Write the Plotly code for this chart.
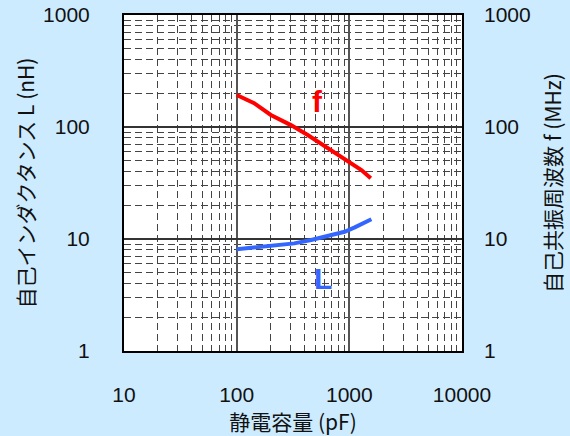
import math
import plotly.graph_objects as go

# Data
cap_f = [100, 143, 201, 303, 427, 646, 908, 1117, 1280, 1550]      # pF
freq_f = [193, 163, 128, 104, 84.9, 64.6, 52.5, 45.8, 41.3, 34.8]  # MHz

cap_L = [100, 143, 215, 325, 458, 646, 908, 1117, 1325, 1570]      # pF
ind_L = [8.09, 8.36, 8.66, 9.14, 9.8, 10.6, 11.6, 12.7, 13.8, 15.0]  # nH

x_ticks = [10, 100, 1000, 10000]
x_ticktext = ["10", "100", "1000", "10000"]
y_ticks = [1, 10, 100, 1000]
y_ticktext = ["1", "10", "100", "1000"]

label_f = {"text": "f", "x": 525, "y": 168}
label_L = {"text": "L", "x": 582, "y": 4.46}

BG = "#CCEBFF"
TICKFONT = dict(family="Liberation Sans, Arial, sans-serif", size=21, color="#111111")
TITLEFONT = dict(family="Noto Sans CJK JP, sans-serif", size=21, color="#111111")
LABELFONT = "Liberation Sans, Arial, sans-serif"

fig = go.Figure()
fig.add_trace(go.Scatter(x=cap_L, y=ind_L, mode="lines",
                         line=dict(color="#3366FF", width=4),
                         yaxis="y", showlegend=False, hoverinfo="skip"))
fig.add_trace(go.Scatter(x=cap_f, y=freq_f, mode="lines",
                         line=dict(color="#FF0000", width=4),
                         yaxis="y2", showlegend=False, hoverinfo="skip"))

minor_grid = dict(dtick="D1", showgrid=True, gridcolor="#444444", gridwidth=1,
                  griddash="7px,4px", ticks="")

fig.update_layout(
    width=570, height=436,
    margin=dict(l=124, r=108, t=15, b=85, autoexpand=False),
    paper_bgcolor=BG, plot_bgcolor="white",
    xaxis=dict(type="log", range=[1, 4], tickvals=x_ticks, ticktext=x_ticktext,
               showgrid=True, gridcolor="#555555", gridwidth=1.5,
               minor=minor_grid, tickfont=TICKFONT, ticks="",
               ticklabelstandoff=24, automargin=False, ticklabeloverflow="allow",
               showline=True, linecolor="black", linewidth=2, mirror=True,
               zeroline=False,
               title=dict(text="静電容量 (pF)", font=TITLEFONT, standoff=9)),
    yaxis=dict(type="log", range=[0, 3], tickvals=y_ticks, ticktext=y_ticktext,
               showgrid=True, gridcolor="#333333", gridwidth=1.5,
               minor=minor_grid, tickfont=TICKFONT, ticks="",
               ticklabelstandoff=28, automargin=False, ticklabeloverflow="allow",
               showline=True, linecolor="black", linewidth=2, mirror=True,
               zeroline=False,
               title=dict(text="自己インダクタンス L (nH)", font=TITLEFONT, standoff=3)),
    yaxis2=dict(type="log", range=[0, 3], tickvals=y_ticks, ticktext=y_ticktext,
                overlaying="y", side="right", showgrid=False, tickfont=TICKFONT,
                ticks="", ticklabelstandoff=21, zeroline=False, automargin=False,
                ticklabeloverflow="allow",
                title=dict(text="自己共振周波数 f (MHz)", font=TITLEFONT, standoff=16)),
    annotations=[
        dict(x=math.log10(label_f["x"]), y=math.log10(label_f["y"]), xref="x", yref="y",
             text="<b>%s</b>" % label_f["text"], showarrow=False,
             font=dict(family=LABELFONT, size=30, color="#FF0000")),
        dict(x=math.log10(label_L["x"]), y=math.log10(label_L["y"]), xref="x", yref="y",
             text="<b>%s</b>" % label_L["text"], showarrow=False,
             font=dict(family=LABELFONT, size=30, color="#3366FF")),
    ],
)

fig.write_html("out.html", config={"displayModeBar": False},
               post_script="document.body.style.margin='0';document.body.style.background='%s';" % BG)
